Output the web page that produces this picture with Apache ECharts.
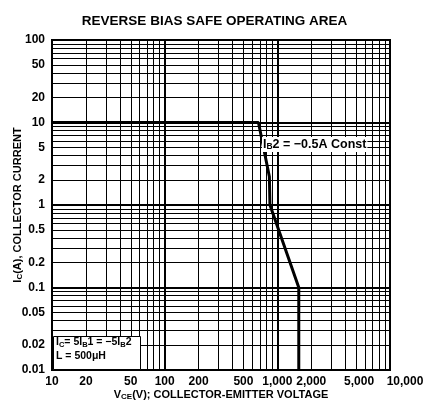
<!DOCTYPE html>
<html><head><meta charset="utf-8">
<script src="https://cdn.jsdelivr.net/npm/echarts@6/dist/echarts.min.js"></script>
<style>html,body{margin:0;padding:0;background:#fff}#c{width:429px;height:408px}</style>
</head><body><div id="c"></div>
<script>
// ---- data ----
const xTickLabels = [10, 20, 50, 100, 200, 500, 1000, 2000, 5000, 10000];
const yTickLabels = [0.01, 0.02, 0.05, 0.1, 0.2, 0.5, 1, 2, 5, 10, 20, 50, 100];
const xMajorGrid = [10, 100, 1000, 10000];
const yMajorGrid = [0.01, 0.1, 1, 10, 100];
const gridMultipliers = [2, 3, 4, 5, 6, 7, 8, 9];
const xDecades = [10, 100, 1000];
const yDecades = [0.01, 0.1, 1, 10];
const vce = [10, 680, 850, 860, 1550, 1550];
const ic  = [10, 10, 2.2, 1, 0.1, 0.01];

const r3 = v => +(+v).toPrecision(3);
const xMinorGrid = xDecades.flatMap(d => gridMultipliers.map(m => r3(d * m)));
const yMinorGrid = yDecades.flatMap(d => gridMultipliers.map(m => r3(d * m)));
const curve = vce.map((v, i) => [v, ic[i]]);

const FONT = 'Liberation Sans, Arial, sans-serif';
const minorStyle = {color: '#000', width: 1, type: 'solid'};
const majorStyle = {color: '#000', width: 2, type: 'solid'};
const gridLines = [].concat(
  xMinorGrid.map(v => ({xAxis: v, lineStyle: minorStyle})),
  yMinorGrid.map(v => ({yAxis: v, lineStyle: minorStyle})),
  xMajorGrid.map(v => ({xAxis: v, lineStyle: majorStyle})),
  yMajorGrid.map(v => ({yAxis: v, lineStyle: majorStyle}))
);

// label nudges (style only): key -> rich style name
const labelNudge = {5000: 'n1', 10000: 'n2'};
const lblFont = {color: '#000', fontWeight: 'bold', fontSize: 12, fontFamily: FONT};
const fmtX = v => {
  const t = r3(v).toLocaleString('en-US');
  const k = labelNudge[r3(v)];
  return k ? `{${k}|${t}}` : t;
};
const fmtY = v => String(r3(v));

const chart = echarts.init(document.getElementById('c'), null, {renderer: 'canvas'});
chart.setOption({
  animation: false,
  backgroundColor: '#fff',
  title: {
    text: 'REVERSE BIAS SAFE OPERATING AREA',
    left: 'center', top: 9,
    textStyle: {fontSize: 13.5, fontWeight: 'bold', color: '#000', fontFamily: FONT}
  },
  grid: {left: 52, top: 40, width: 338, height: 330, containLabel: false, outerBoundsMode: 'none',
    show: true, borderColor: '#000', borderWidth: 2, backgroundColor: 'transparent'},
  xAxis: {
    type: 'log', logBase: 10, min: 10, max: 10000,
    axisLine: {show: false}, axisTick: {show: false}, splitLine: {show: false},
    axisLabel: Object.assign({customValues: xTickLabels, formatter: fmtX, margin: 6,
      showMaxLabel: true, showMinLabel: true, hideOverlap: false,
      rich: {
        n1: Object.assign({padding: [0, 0, 0, 6]}, lblFont),
        n2: Object.assign({padding: [0, 0, 0, 30]}, lblFont)
      }}, lblFont),
    name: '{a|V}{s|CE}{a|(V); COLLECTOR-EMITTER VOLTAGE}',
    nameLocation: 'middle', nameGap: 19, nameMoveOverlap: false,
    nameTextStyle: {rich: {
      a: {fontSize: 11, fontWeight: 'bold', color: '#000', fontFamily: FONT},
      s: {fontSize: 8, fontWeight: 'bold', color: '#000', fontFamily: FONT, verticalAlign: 'bottom', padding: [4, 0, 0, 0]}
    }}
  },
  yAxis: {
    type: 'log', logBase: 10, min: 0.01, max: 100,
    axisLine: {show: false}, axisTick: {show: false}, splitLine: {show: false},
    axisLabel: Object.assign({customValues: yTickLabels, formatter: fmtY, margin: 7,
      showMaxLabel: true, showMinLabel: true, hideOverlap: false}, lblFont),
    name: '{a|I}{s|C}{a|(A), COLLECTOR CURRENT}',
    nameLocation: 'middle', nameGap: 28, nameRotate: 90, nameMoveOverlap: false,
    nameTextStyle: {rich: {
      a: {fontSize: 11, fontWeight: 'bold', color: '#000', fontFamily: FONT},
      s: {fontSize: 8, fontWeight: 'bold', color: '#000', fontFamily: FONT, verticalAlign: 'bottom', padding: [4, 0, 0, 0]}
    }}
  },
  series: [
    {
      type: 'line', data: [], silent: true, symbol: 'none',
      markLine: {silent: true, symbol: ['none', 'none'], label: {show: false}, animation: false, data: gridLines}
    },
    {
      type: 'line', data: curve, symbol: 'none', z: 10,
      lineStyle: {color: '#000', width: 3}
    }
  ],
  graphic: [
    {type: 'text', left: 262, top: 137, z: 100, style: {
      text: '{a|I}{s|B}{a|2 = −0.5A Const}', backgroundColor: '#fff', padding: [1, 1, 1, 1],
      rich: {
        a: {fontSize: 12.5, fontWeight: 'bold', fill: '#000', fontFamily: FONT},
        s: {fontSize: 8.5, fontWeight: 'bold', fill: '#000', fontFamily: FONT, verticalAlign: 'bottom', padding: [4, 0, 0, 0]}
      }
    }},
    {type: 'rect', left: 53, top: 336, z: 100, shape: {width: 87, height: 33}, style: {fill: '#fff', stroke: '#000', lineWidth: 1}},
    {type: 'text', left: 56, top: 337, z: 101, style: {
      text: '{a|I}{s|C}{a|= 5I}{s|B}{a|1 = −5I}{s|B}{a|2}',
      rich: {
        a: {fontSize: 10.5, fontWeight: 'bold', fill: '#000', fontFamily: FONT},
        s: {fontSize: 7.5, fontWeight: 'bold', fill: '#000', fontFamily: FONT, verticalAlign: 'bottom', padding: [4, 0, 0, 0]}
      }
    }},
    {type: 'text', left: 56, top: 351, z: 101, style: {
      text: 'L = 500μH', fontSize: 10.5, fontWeight: 'bold', fill: '#000', fontFamily: FONT
    }}
  ]
});
</script>
</body></html>
